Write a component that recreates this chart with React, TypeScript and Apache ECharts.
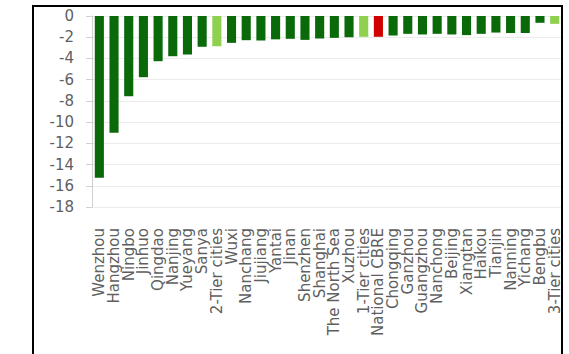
import React, { useEffect, useRef } from "react";
import * as echarts from "echarts";

const categories = [
  "Wenzhou", "Hangzhou", "Ningbo", "Jinhuo", "Qingdao", "Nanjing", "Yueyang", "Sanya",
  "2-Tier cities", "Wuxi", "Nanchang", "Jiujiang", "Yantai", "Jinan", "Shenzhen", "Shanghai",
  "The North Sea", "Xuzhou", "1-Tier cities", "National CBRE", "Chongqing", "Ganzhou",
  "Guangzhou", "Nanchong", "Beijing", "Xiangtan", "Haikou", "Tianjin", "Nanning", "Yichang",
  "Bengbu", "3-Tier cities",
];

const values = [
  -15.25, -11.0, -7.56, -5.77, -4.26, -3.79, -3.63, -2.9,
  -2.85, -2.53, -2.28, -2.31, -2.2, -2.15, -2.25, -2.12,
  -2.06, -2.0, -1.96, -1.96, -1.84, -1.68,
  -1.74, -1.68, -1.74, -1.8, -1.68, -1.56, -1.6, -1.6,
  -0.64, -0.74,
];

const tierCategories = ["2-Tier cities", "1-Tier cities", "3-Tier cities"];
const nationalCategories = ["National CBRE"];

const yMin = -18;
const yMax = 0;
const yInterval = 2;

const DARK = "#0a6a0a";
const LIGHT = "#8fd14f";
const RED = "#d00000";
const FONT = "DejaVu Sans";

export default function App() {
  const ref = useRef<HTMLDivElement>(null);
  useEffect(() => {
    if (!ref.current) return;
    const chart = echarts.init(ref.current, undefined, { renderer: "svg" });
    chart.setOption({
      animation: false,
      backgroundColor: "#ffffff",
      grid: { left: 92, top: 16, right: 7, bottom: 147, containLabel: false },
      xAxis: {
        type: "category",
        data: categories,
        position: "bottom",
        axisLine: { show: false, onZero: false },
        axisTick: { show: false },
        axisLabel: {
          interval: 0,
          rotate: 90,
          margin: 21,
          color: "#5f5f5f",
          fontFamily: FONT,
          fontSize: 15,
        },
      },
      yAxis: {
        type: "value",
        min: yMin,
        max: yMax,
        interval: yInterval,
        axisLine: { show: true, lineStyle: { color: "#d0d0d0", width: 1 } },
        axisTick: { show: true, length: 6, lineStyle: { color: "#d0d0d0" } },
        axisLabel: {
          margin: 18,
          color: "#5f5f5f",
          fontFamily: FONT,
          fontSize: 15,
        },
        splitLine: { show: true, lineStyle: { color: "#ebebeb", width: 1 } },
      },
      series: [
        {
          type: "bar",
          data: values.map((v, i) => ({
            value: v,
            itemStyle: {
              color: nationalCategories.includes(categories[i])
                ? RED
                : tierCategories.includes(categories[i])
                ? LIGHT
                : DARK,
            },
          })),
          barCategoryGap: "38%",
        },
      ],
      graphic: [
        {
          type: "rect",
          shape: { x: 33, y: 6, width: 529, height: 360 },
          style: { fill: "none", stroke: "#000000", lineWidth: 2 },
          z: 100,
        },
      ],
    });
    return () => chart.dispose();
  }, []);
  return (
    <div
      ref={ref}
      style={{ position: "fixed", left: 0, top: 0, width: 569, height: 354, background: "#fff" }}
    />
  );
}
